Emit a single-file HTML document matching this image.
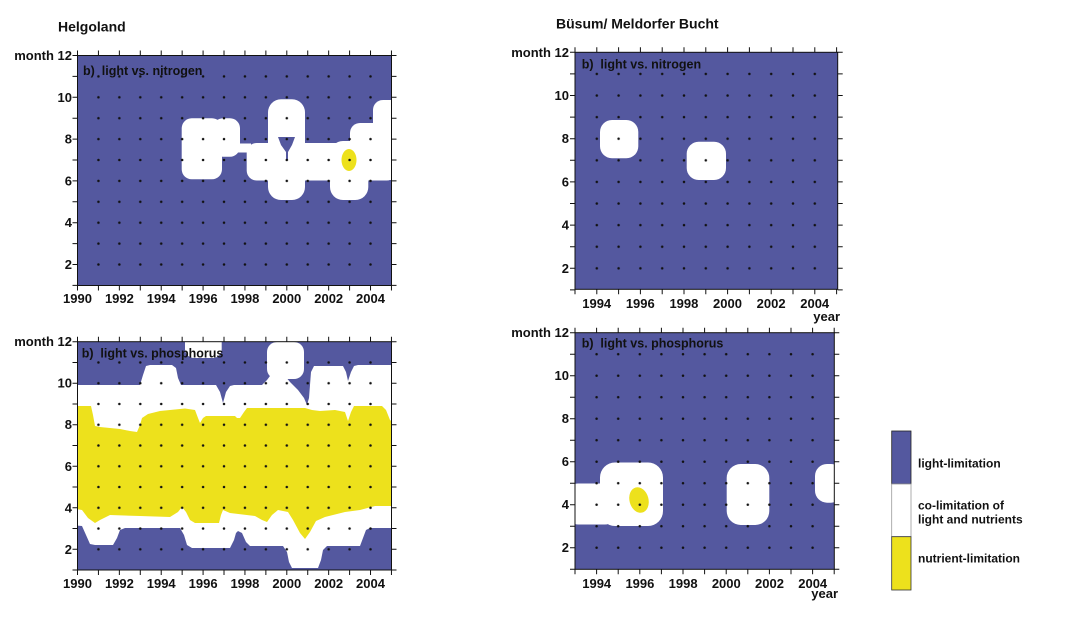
<!DOCTYPE html>
<html><head><meta charset="utf-8"><style>
html,body{margin:0;padding:0;background:#fff;}
svg{display:block;}
text{font-family:"Liberation Sans",Arial,sans-serif;font-weight:bold;fill:#111;}
</style></head><body>
<svg width="1065" height="623" viewBox="0 0 1065 623" xmlns="http://www.w3.org/2000/svg">
<defs>
<pattern id="pTL" patternUnits="userSpaceOnUse" x="67.035" y="45.05" width="20.93" height="20.9"><circle cx="10.465" cy="10.45" r="1.25" fill="#111"/></pattern>
<pattern id="pBL" patternUnits="userSpaceOnUse" x="67.035" y="331.32" width="20.93" height="20.76"><circle cx="10.465" cy="10.38" r="1.25" fill="#111"/></pattern>
<pattern id="pTR" patternUnits="userSpaceOnUse" x="564.1" y="41.5" width="21.8" height="21.6"><circle cx="10.9" cy="10.8" r="1.25" fill="#111"/></pattern>
<pattern id="pBR" patternUnits="userSpaceOnUse" x="564.2" y="321.95" width="21.6" height="21.5"><circle cx="10.8" cy="10.75" r="1.25" fill="#111"/></pattern>
<clipPath id="cTL"><rect x="77.5" y="55.5" width="314" height="230"/></clipPath>
<clipPath id="cBL"><rect x="77.5" y="341.7" width="314" height="228.3"/></clipPath>
<clipPath id="cTR"><rect x="575" y="52.3" width="262.7" height="237"/></clipPath>
<clipPath id="cBR"><rect x="575" y="332.7" width="259.3" height="236.6"/></clipPath>
</defs>

<!-- Titles -->
<text x="58" y="31.5" font-size="14">Helgoland</text>
<text x="556" y="28.3" font-size="14">Büsum/ Meldorfer Bucht</text>

<!-- ===== TOP LEFT ===== -->
<g clip-path="url(#cTL)">
<rect x="77.5" y="55.5" width="314" height="230" fill="#54589f"/>
<g fill="#fff">
<rect x="181.7" y="118.3" width="40.3" height="61" rx="10"/>
<rect x="213" y="118.3" width="27" height="38.4" rx="10"/>
<rect x="234" y="143.5" width="17" height="9"/>
<rect x="246.7" y="143" width="150" height="37.5" rx="10"/>
<rect x="268" y="99.3" width="37" height="100.7" rx="13"/>
<rect x="330" y="141" width="38.3" height="59" rx="13"/>
<rect x="350" y="123" width="50" height="57" rx="10"/>
<rect x="373" y="100" width="30" height="79" rx="10"/>
</g>
<path d="M278,137 L295,137 L292,145 L288,152 L288,160 L286,160 L286,152 L281,145 Z" fill="#54589f"/>
<ellipse cx="349" cy="160" rx="7.5" ry="11" fill="#ede11c"/>
<rect x="88" y="66" width="293" height="209" fill="url(#pTL)"/>
</g>
<rect x="77.5" y="55.5" width="314" height="230" fill="none" stroke="#111" stroke-width="1"/>
<g stroke="#111" stroke-width="5">
<line x1="77" y1="288" x2="392" y2="288" stroke-dasharray="1 19.93"/>
<line x1="77" y1="53" x2="392" y2="53" stroke-dasharray="1 19.93"/>
<line x1="75" y1="55" x2="75" y2="287" stroke-dasharray="1 19.9"/>
<line x1="394" y1="55" x2="394" y2="287" stroke-dasharray="1 19.9"/>
</g>
<text x="83" y="75" font-size="12.5" fill="#1e1e3c">b)&#160; light vs. nitrogen</text>
<g font-size="13" text-anchor="end">
<text x="72" y="60">month 12</text>
<text x="72" y="101.8">10</text>
<text x="72" y="143.6">8</text>
<text x="72" y="185.4">6</text>
<text x="72" y="227.2">4</text>
<text x="72" y="269">2</text>
</g>
<g font-size="13" text-anchor="middle">
<text x="77.5" y="303">1990</text>
<text x="119.4" y="303">1992</text>
<text x="161.2" y="303">1994</text>
<text x="203.1" y="303">1996</text>
<text x="244.9" y="303">1998</text>
<text x="286.8" y="303">2000</text>
<text x="328.7" y="303">2002</text>
<text x="370.5" y="303">2004</text>
</g>

<!-- ===== BOTTOM LEFT ===== -->
<g clip-path="url(#cBL)">
<rect x="77.5" y="341.7" width="314" height="228.3" fill="#54589f"/>
<g fill="#fff">
<rect x="185" y="330" width="36.7" height="28" rx="9"/>
<rect x="267" y="342" width="37" height="37" rx="10"/>
<path d="M70,385 L140,385 L143,375 L146,366 L150,365 L172,365 L176,368 L178,378 L181,385 L216,385 L220,392 L223,403 L226,392 L230,386 L234,385 L262,385 L267,380 L270,376 L285,376 L290,382 L298,390 L304,398 L307,405 L309,398 L310,385 L311,372 L314,366 L343,366 L346,372 L348,381 L351,372 L354,366 L358,365 L398,365
L398,528 L370,528 L366,530 L363,538 L360,546 L327,546 L323,550 L321,560 L318,568 L292,568 L289,562 L287,552 L283,546 L250,546 L246,542 L242,533 L238,531 L236,533 L234,540 L230,548 L192,548 L187,545 L184,535 L180,528 L125,528 L120,530 L117,538 L113,545 L95,545 L90,544 L86,535 L82,526 L70,525 Z"/>
</g>
<path fill="#ede11c" d="M70,406 L91,406 L93,415 L95,426 L100,427 L120,429 L130,431 L137,432 L140,425 L142,418 L148,414 L160,411 L185,408.5 L195,410 L198,418 L200,423 L203,418 L206,416 L235,416 L237,418 L240,418 L244,412 L247,408 L305,408 L312,410 L320,411 L335,410 L345,412 L348,421 L351,412 L354,406 L382,406 L386,410 L390,420 L398,426
L398,506 L375,506 L360,510 L345,512 L325,517 L316,521 L310,532 L305,539 L300,533 L293,520 L288,512 L278,510 L272,515 L267,522 L262,520 L255,516 L230,513 L223,510 L221,515 L219,523 L195,523 L190,520 L186,512 L182,507 L178,512 L170,517 L140,516 L110,515 L100,520 L95,523 L88,518 L82,510 L70,508 Z"/>
<rect x="88" y="352" width="293" height="208" fill="url(#pBL)"/>
</g>
<rect x="77.5" y="341.7" width="314" height="228.3" fill="none" stroke="#111" stroke-width="1"/>
<g stroke="#111" stroke-width="5">
<line x1="77" y1="572.5" x2="392" y2="572.5" stroke-dasharray="1 19.93"/>
<line x1="77" y1="339.2" x2="392" y2="339.2" stroke-dasharray="1 19.93"/>
<line x1="75" y1="341.2" x2="75" y2="571" stroke-dasharray="1 19.76"/>
<line x1="394" y1="341.2" x2="394" y2="571" stroke-dasharray="1 19.76"/>
</g>
<text x="81.7" y="357.5" font-size="12.5" fill="#1e1e3c">b)&#160; light vs. phosphorus</text>
<g font-size="13" text-anchor="end">
<text x="72" y="346.2">month 12</text>
<text x="72" y="387.7">10</text>
<text x="72" y="429.2">8</text>
<text x="72" y="470.8">6</text>
<text x="72" y="512.3">4</text>
<text x="72" y="553.8">2</text>
</g>
<g font-size="13" text-anchor="middle">
<text x="77.5" y="588">1990</text>
<text x="119.4" y="588">1992</text>
<text x="161.2" y="588">1994</text>
<text x="203.1" y="588">1996</text>
<text x="244.9" y="588">1998</text>
<text x="286.8" y="588">2000</text>
<text x="328.7" y="588">2002</text>
<text x="370.5" y="588">2004</text>
</g>

<!-- ===== TOP RIGHT ===== -->
<g clip-path="url(#cTR)">
<rect x="575" y="52.3" width="262.7" height="237" fill="#54589f"/>
<g fill="#fff">
<rect x="600" y="120" width="38.3" height="38.3" rx="12"/>
<rect x="686.7" y="141.7" width="39.3" height="38.3" rx="12"/>
</g>
<rect x="586" y="63" width="240" height="216" fill="url(#pTR)"/>
</g>
<rect x="575" y="52.3" width="262.7" height="237" fill="none" stroke="#111" stroke-width="1"/>
<g stroke="#111" stroke-width="5">
<line x1="574.5" y1="291.8" x2="838" y2="291.8" stroke-dasharray="1 20.8"/>
<line x1="574.5" y1="49.8" x2="838" y2="49.8" stroke-dasharray="1 20.8"/>
<line x1="572.5" y1="51.8" x2="572.5" y2="291" stroke-dasharray="1 20.6"/>
<line x1="840.2" y1="51.8" x2="840.2" y2="291" stroke-dasharray="1 20.6"/>
</g>
<text x="581.7" y="68.5" font-size="12.5" fill="#1e1e3c">b)&#160; light vs. nitrogen</text>
<g font-size="13" text-anchor="end">
<text x="569" y="56.8">month 12</text>
<text x="569" y="100">10</text>
<text x="569" y="143.2">8</text>
<text x="569" y="186.4">6</text>
<text x="569" y="229.6">4</text>
<text x="569" y="272.8">2</text>
</g>
<g font-size="13" text-anchor="middle">
<text x="596.7" y="308">1994</text>
<text x="640.3" y="308">1996</text>
<text x="683.9" y="308">1998</text>
<text x="727.5" y="308">2000</text>
<text x="771.1" y="308">2002</text>
<text x="814.7" y="308">2004</text>
</g>
<text x="840" y="321" font-size="13" text-anchor="end">year</text>

<!-- ===== BOTTOM RIGHT ===== -->
<g clip-path="url(#cBR)">
<rect x="575" y="332.7" width="259.3" height="236.6" fill="#54589f"/>
<g fill="#fff">
<rect x="568" y="483.5" width="47" height="41" rx="10"/>
<rect x="600" y="462.5" width="63" height="63.5" rx="15"/>
<rect x="726.7" y="464" width="42.6" height="61" rx="14"/>
<rect x="815" y="464" width="28" height="38.7" rx="12"/>
</g>
<ellipse cx="639" cy="500" rx="9.5" ry="13" transform="rotate(-15 639 500)" fill="#ede11c"/>
<rect x="586" y="343" width="238" height="216" fill="url(#pBR)"/>
</g>
<rect x="575" y="332.7" width="259.3" height="236.6" fill="none" stroke="#111" stroke-width="1"/>
<g stroke="#111" stroke-width="5">
<line x1="574.5" y1="571.8" x2="835" y2="571.8" stroke-dasharray="1 20.6"/>
<line x1="574.5" y1="330.2" x2="835" y2="330.2" stroke-dasharray="1 20.6"/>
<line x1="572.5" y1="332.2" x2="572.5" y2="571" stroke-dasharray="1 20.5"/>
<line x1="836.8" y1="332.2" x2="836.8" y2="571" stroke-dasharray="1 20.5"/>
</g>
<text x="581.7" y="347.5" font-size="12.5" fill="#1e1e3c">b)&#160; light vs. phosphorus</text>
<g font-size="13" text-anchor="end">
<text x="569" y="337.2">month 12</text>
<text x="569" y="380.2">10</text>
<text x="569" y="423.2">8</text>
<text x="569" y="466.2">6</text>
<text x="569" y="509.2">4</text>
<text x="569" y="552.2">2</text>
</g>
<g font-size="13" text-anchor="middle">
<text x="596.7" y="588">1994</text>
<text x="639.9" y="588">1996</text>
<text x="683.1" y="588">1998</text>
<text x="726.3" y="588">2000</text>
<text x="769.5" y="588">2002</text>
<text x="812.7" y="588">2004</text>
</g>
<text x="838" y="598" font-size="13" text-anchor="end">year</text>

<!-- ===== LEGEND ===== -->
<rect x="891.7" y="431" width="19.3" height="53" fill="#54589f" stroke="#222" stroke-width="0.8"/>
<rect x="891.7" y="484" width="19.3" height="52.7" fill="#fff" stroke="#999" stroke-width="0.8"/>
<rect x="891.7" y="536.7" width="19.3" height="53.3" fill="#ede11c" stroke="#333" stroke-width="0.8"/>
<g font-size="12">
<text x="918" y="467.5">light-limitation</text>
<text x="918" y="509.5">co-limitation of</text>
<text x="918" y="523.5">light and nutrients</text>
<text x="918" y="562.5">nutrient-limitation</text>
</g>
</svg>
</body></html>
